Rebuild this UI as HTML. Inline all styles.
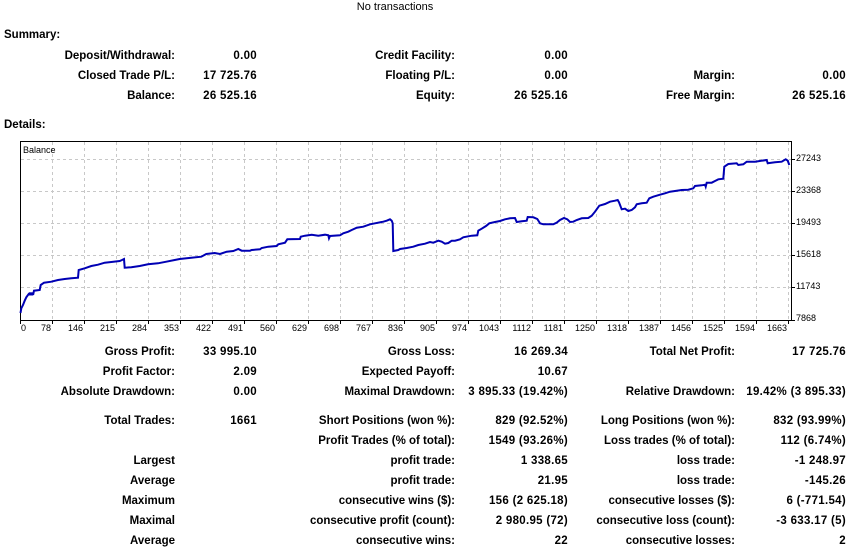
<!DOCTYPE html>
<html>
<head>
<meta charset="utf-8">
<style>
html,body{margin:0;padding:0;background:#fff;}
body{width:851px;height:548px;overflow:hidden;}
svg{display:block;}
.b{font-family:"Liberation Sans",Arial,sans-serif;font-weight:bold;font-size:11.5px;fill:#000;}
.v{letter-spacing:0.3px;}
.r{font-family:"Liberation Sans",Arial,sans-serif;font-size:11px;fill:#000;}
.t{font-family:"Liberation Sans",Arial,sans-serif;font-size:9px;fill:#000;}
</style>
</head>
<body>
<svg width="851" height="548" viewBox="0 0 851 548" xmlns="http://www.w3.org/2000/svg">
<rect width="851" height="548" fill="#fff"/>
<text class="r" x="395" y="10" text-anchor="middle">No transactions</text>

<text class="b" x="4" y="38">Summary:</text>
<g class="b" text-anchor="end">
<text x="175" y="59">Deposit/Withdrawal:</text>
<text x="175" y="79">Closed Trade P/L:</text>
<text x="175" y="99">Balance:</text>
<text class="v" x="257" y="59">0.00</text>
<text class="v" x="257" y="79">17 725.76</text>
<text class="v" x="257" y="99">26 525.16</text>
<text x="455" y="59">Credit Facility:</text>
<text x="455" y="79">Floating P/L:</text>
<text x="455" y="99">Equity:</text>
<text class="v" x="568" y="59">0.00</text>
<text class="v" x="568" y="79">0.00</text>
<text class="v" x="568" y="99">26 525.16</text>
<text x="735" y="79">Margin:</text>
<text x="735" y="99">Free Margin:</text>
<text class="v" x="846" y="79">0.00</text>
<text class="v" x="846" y="99">26 525.16</text>
</g>
<text class="b" x="4" y="128">Details:</text>

<!-- chart -->
<g stroke="#c8c8c8" stroke-width="1" stroke-dasharray="3 3" fill="none">
<path d="M21 159.5H791M21 191.5H791M21 223.5H791M21 255.5H791M21 287.5H791"/>
<path d="M52.5 142V320M84.5 142V320M116.5 142V320M148.5 142V320M180.5 142V320M212.5 142V320M244.5 142V320M276.5 142V320M308.5 142V320M340.5 142V320M372.5 142V320M404.5 142V320M436.5 142V320M468.5 142V320M500.5 142V320M532.5 142V320M564.5 142V320M596.5 142V320M628.5 142V320M660.5 142V320M692.5 142V320M724.5 142V320M756.5 142V320M788.5 142V320"/>
</g>
<rect x="20.5" y="141.5" width="771" height="179" fill="none" stroke="#000" stroke-width="1"/>
<g stroke="#000" stroke-width="1">
<path d="M20.5 320V324M52.5 320V324M84.5 320V324M116.5 320V324M148.5 320V324M180.5 320V324M212.5 320V324M244.5 320V324M276.5 320V324M308.5 320V324M340.5 320V324M372.5 320V324M404.5 320V324M436.5 320V324M468.5 320V324M500.5 320V324M532.5 320V324M564.5 320V324M596.5 320V324M628.5 320V324M660.5 320V324M692.5 320V324M724.5 320V324M756.5 320V324M788.5 320V324"/>
<path d="M791 159.5H795M791 191.5H795M791 223.5H795M791 255.5H795M791 287.5H795M791 320.5H795"/>
</g>
<text class="t" x="23" y="153">Balance</text>

<rect x="28.7" y="292.3" width="4.6" height="3.2" fill="#0000b4"/>
<polyline fill="none" stroke="#0000b4" stroke-width="2" stroke-linejoin="miter" points="
20.5,313 21.3,308.3 23,305 24.7,300.7 26.3,297.3 28.7,294 33.3,294 34,290.7 39.7,290 40.7,285 44,282.7 51.3,281.7 58,280 64.7,279 71.3,278.3 78,277.7 78.7,270 84.7,268.3 91.3,266 98,264.7 104.7,262.7 111.3,262 119.7,261 122,260 124,259 124.7,267.7 131.3,267.3 139.7,266 148,264.3 158,263.3 166.3,261.7 174.7,260 179.7,259 191.3,257.7 201.3,256.7 206.3,254 214.7,253
220,254 226.7,251.7 233.3,251 238.3,249 241.7,250.7 250,250.7 251.7,250 260,249.3 261.7,248 268.3,246.7 276.7,246 278.3,244.3 285,242.7 287.3,239.3 300,239 300.7,236.7 305,235.7 311.7,234.7 318.3,235.7 325,234.7 328.3,235.3 329,238.3 330,236 340,235.3 343.3,233.3 348.3,231.7 351.7,230 356.7,227.7 363.3,226.7 370,224.3 375,223.3 383.3,221.7 386.7,220.7 390,219.3 391.7,220.7 392.7,223.3 393.3,251 398.3,250 400,249
406.7,248 413.3,246.7 418.3,245 425,243.7 430,242 433.3,242.7 438.3,240.7 441.7,241.7 445,243.7 448.3,243 451.7,240.7 455,240.7 460,239.3 463.3,237.3 468.3,236.3 471.7,235.7 477.3,235.3 478.3,230.7 481.7,228.7 486,226 489.3,223.3 495,222 500,221 505,219.3 510,218.3 515,218 516.7,222 521.7,221.3 526.7,220.7 527.7,217 533.3,217.3 537.3,219 540,223.3 543.3,224.3 553.3,224.3 556.7,222.7 560,220 564,218 567.3,219.3 570,222 573.3,221.7 576.7,220 581.7,218.3 588.3,218 591.7,215.7 595,211.7 599.3,205.7
605,204 610,201.7 615,200.7 617.7,200 619,202.3 621.7,209.3 625,208.7 628.3,211 631.7,210 635,207.3 636.7,204.3 641.7,203.3 646.7,202.7 649.3,198.3 653.3,196.7 660,194.7 665,193.3 670,191.7 675,191 681.7,190 688.3,189.7 693.3,188.3 695,186 701.7,185.3 705,184.7 705.7,186.7 706.7,182.7 711.7,182.7 715,181 718.3,179.3 723.3,178.7 724.3,166.7 728.3,164 736.7,163.3 738.3,165 743.3,164.3 746.7,161.7 755,161.7 766.7,160 767.7,163.3 775,162.3 781.7,161.7 785.7,159.3 787.7,160.7 789.3,165"/>

<g class="t">
<text x="21" y="331">0</text>
<g text-anchor="end">
<text x="51" y="331">78</text>
<text x="83" y="331">146</text>
<text x="115" y="331">215</text>
<text x="147" y="331">284</text>
<text x="179" y="331">353</text>
<text x="211" y="331">422</text>
<text x="243" y="331">491</text>
<text x="275" y="331">560</text>
<text x="307" y="331">629</text>
<text x="339" y="331">698</text>
<text x="371" y="331">767</text>
<text x="403" y="331">836</text>
<text x="435" y="331">905</text>
<text x="467" y="331">974</text>
<text x="499" y="331">1043</text>
<text x="531" y="331">1112</text>
<text x="563" y="331">1181</text>
<text x="595" y="331">1250</text>
<text x="627" y="331">1318</text>
<text x="659" y="331">1387</text>
<text x="691" y="331">1456</text>
<text x="723" y="331">1525</text>
<text x="755" y="331">1594</text>
<text x="787" y="331">1663</text>
</g>
<text x="796" y="161">27243</text>
<text x="796" y="193">23368</text>
<text x="796" y="225">19493</text>
<text x="796" y="257">15618</text>
<text x="796" y="289">11743</text>
<text x="796" y="321">7868</text>
</g>

<!-- details table -->
<g class="b" text-anchor="end">
<text x="175" y="355">Gross Profit:</text>
<text class="v" x="257" y="355">33 995.10</text>
<text x="455" y="355">Gross Loss:</text>
<text class="v" x="568" y="355">16 269.34</text>
<text x="735" y="355">Total Net Profit:</text>
<text class="v" x="846" y="355">17 725.76</text>

<text x="175" y="375">Profit Factor:</text>
<text class="v" x="257" y="375">2.09</text>
<text x="455" y="375">Expected Payoff:</text>
<text class="v" x="568" y="375">10.67</text>

<text x="175" y="395">Absolute Drawdown:</text>
<text class="v" x="257" y="395">0.00</text>
<text x="455" y="395">Maximal Drawdown:</text>
<text class="v" x="568" y="395">3 895.33 (19.42%)</text>
<text x="735" y="395">Relative Drawdown:</text>
<text class="v" x="846" y="395">19.42% (3 895.33)</text>

<text x="175" y="424">Total Trades:</text>
<text class="v" x="257" y="424">1661</text>
<text x="455" y="424">Short Positions (won %):</text>
<text class="v" x="568" y="424">829 (92.52%)</text>
<text x="735" y="424">Long Positions (won %):</text>
<text class="v" x="846" y="424">832 (93.99%)</text>

<text x="455" y="444">Profit Trades (% of total):</text>
<text class="v" x="568" y="444">1549 (93.26%)</text>
<text x="735" y="444">Loss trades (% of total):</text>
<text class="v" x="846" y="444">112 (6.74%)</text>

<text x="175" y="464">Largest</text>
<text x="455" y="464">profit trade:</text>
<text class="v" x="568" y="464">1 338.65</text>
<text x="735" y="464">loss trade:</text>
<text class="v" x="846" y="464">-1 248.97</text>

<text x="175" y="484">Average</text>
<text x="455" y="484">profit trade:</text>
<text class="v" x="568" y="484">21.95</text>
<text x="735" y="484">loss trade:</text>
<text class="v" x="846" y="484">-145.26</text>

<text x="175" y="504">Maximum</text>
<text x="455" y="504">consecutive wins ($):</text>
<text class="v" x="568" y="504">156 (2 625.18)</text>
<text x="735" y="504">consecutive losses ($):</text>
<text class="v" x="846" y="504">6 (-771.54)</text>

<text x="175" y="524">Maximal</text>
<text x="455" y="524">consecutive profit (count):</text>
<text class="v" x="568" y="524">2 980.95 (72)</text>
<text x="735" y="524">consecutive loss (count):</text>
<text class="v" x="846" y="524">-3 633.17 (5)</text>

<text x="175" y="544">Average</text>
<text x="455" y="544">consecutive wins:</text>
<text class="v" x="568" y="544">22</text>
<text x="735" y="544">consecutive losses:</text>
<text class="v" x="846" y="544">2</text>
</g>
</svg>
</body>
</html>
